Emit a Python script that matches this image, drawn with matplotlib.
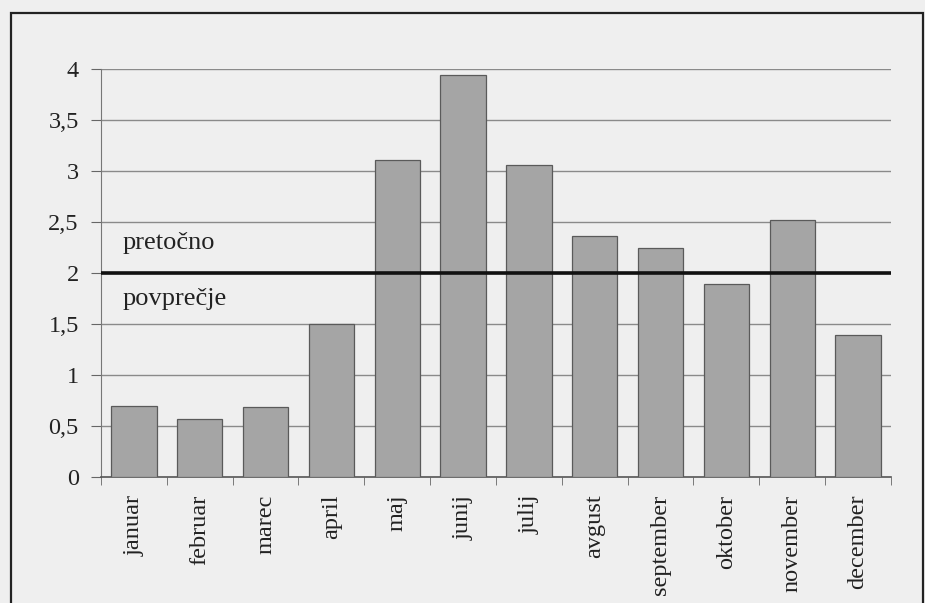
import matplotlib
matplotlib.use("Agg")
import matplotlib.pyplot as plt
from matplotlib.patches import Rectangle
import numpy as np

# povprečni mesečni pretoki
meseci = ["januar", "februar", "marec", "april", "maj", "junij",
          "julij", "avgust", "september", "oktober", "november", "december"]
pretok = [0.69, 0.57, 0.68, 1.50, 3.11, 3.94, 3.06, 2.36, 2.24, 1.89, 2.52, 1.39]
povprecje = 2.0
y_oznake = ["0", "0,5", "1", "1,5", "2", "2,5", "3", "3,5", "4"]

plt.rcParams['font.family'] = ['Liberation Serif', 'DejaVu Serif']

fig = plt.figure(figsize=(9.25, 6.03), dpi=100)
fig.patch.set_facecolor('#efefef')

# okvir okrog grafa
fig.patches.append(Rectangle((0.0119, -0.02), 0.9859, 0.9984, transform=fig.transFigure,
                             fill=False, edgecolor='#222222', linewidth=1.6))

ax = fig.add_axes([0.1092, 0.2095, 0.854, 0.676])
ax.set_facecolor('none')

x = np.arange(len(meseci))
ax.bar(x, pretok, width=0.69, color='#a5a5a5', edgecolor='#5a5a5a', linewidth=0.9, zorder=3)
ax.axhline(povprecje, color='#111111', linewidth=2.6, zorder=4)

ax.set_xlim(-0.5, len(meseci) - 0.5)
ax.set_ylim(0, 4)
yt = np.arange(0, 4.01, 0.5)
ax.set_yticks(yt)
ax.set_yticklabels(y_oznake, fontsize=17.5, color='#222222')
ax.set_xticks(x)
ax.set_xticklabels(meseci, rotation=90, fontsize=17.5, color='#222222')
ax.set_xticks(np.arange(-0.5, len(meseci), 1), minor=True)
ax.tick_params(axis='x', which='major', length=0, pad=13)
ax.tick_params(axis='x', which='minor', length=6, color='#666666', direction='out')
ax.tick_params(axis='y', length=7, color='#666666', pad=9)

for y in yt[1:]:
    ax.axhline(y, color='#8a8a8a', linewidth=1.0, zorder=1)

for s in ['top', 'right']:
    ax.spines[s].set_visible(False)
ax.spines['left'].set_color('#777777')
ax.spines['bottom'].set_color('#555555')
ax.spines['bottom'].set_linewidth(1.2)

ax.text(-0.17, 2.23, "pretočno", fontsize=19, color='#222222', zorder=5)
ax.text(-0.17, 1.685, "povprečje", fontsize=19, color='#222222', zorder=5)

fig.savefig("out.png", dpi=100, facecolor=fig.get_facecolor())
